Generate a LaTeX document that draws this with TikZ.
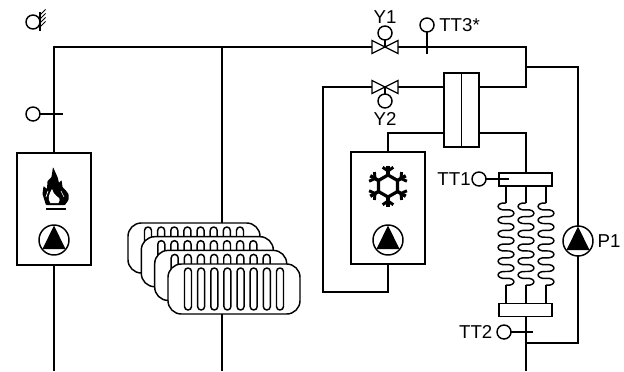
\documentclass[tikz,border=0pt]{standalone}
\usepackage{fontspec}
\setmainfont{Liberation Sans}
\usetikzlibrary{positioning}
\newcommand{\pumpsign}[1]{\fill (#1) ++(0,-14.5) -- ++(11.5,23.5) -- ++(-23,0) -- cycle;}
\newcommand{\valvesign}[1]{\draw[line width=1pt,fill=white] (#1) ++(-13,-6.5) -- ++(26,13) -- ++(0,-13) -- ++(-26,13) -- cycle;}
\begin{document}
\begin{tikzpicture}[x=0.75pt,y=-0.75pt,
    pipe/.style={line width=2pt},
    stem/.style={line width=1pt},
    unit/.style={draw,fill=white,line width=1.1pt,inner sep=0pt,outer sep=0pt,minimum width=55.5pt,minimum height=84pt},
    pumpc/.style={draw,fill=white,circle,line width=1.1pt,inner sep=0pt,outer sep=0pt,minimum size=22.5pt},
    probe/.style={draw,fill=white,circle,line width=1.1pt,inner sep=0pt,outer sep=0pt,minimum size=10.5pt},
    radbox/.style={draw,fill=white,line width=1.1pt,rounded corners=10pt,inner sep=0pt,outer sep=0pt,minimum width=99pt,minimum height=37.5pt},
    tube/.style={draw,line width=1.1pt,rounded corners=2.6pt,inner sep=0pt,outer sep=0pt,minimum width=5.25pt,minimum height=31.5pt},
    header/.style={draw,fill=white,line width=1.1pt,inner sep=0pt,outer sep=0pt,minimum width=39.75pt,minimum height=10pt},
    coilline/.style={line width=1.1pt},
    tag/.style={inner sep=0pt,outer sep=0pt,font=\fontsize{14}{16}\selectfont}]
 \useasboundingbox (0,0) rectangle (624,371);

 % units
 \node[unit] (boiler) at (54,209) {};
 \node[unit] (chiller) at (388,208) {};
 \node[pumpc] (pumpA) at (54,240) {};
 \node[pumpc] (pumpB) at (388,240) {};
 \node[pumpc] (pumpC) at (578,241) {};
 \node[draw,fill=white,line width=1.1pt,inner sep=0pt,outer sep=0pt,minimum width=26.25pt,minimum height=55.5pt] (hx) at (461.5,110) {};
 \node[header] (hdrtop) at (525.5,179.5) {};
 \node[header] (hdrbot) at (525.5,310) {};

 % radiators
 \foreach \n/\xx/\yy in {1/194/248,2/207.3/261.7,3/220.7/275.4,4/234/289} {
   \node[radbox] (rad\n) at (\xx,\yy) {};
   \foreach \k in {0,...,7}
     \node[tube] (tube\n\k) at (\xx-46+13.14*\k,\yy) {};
 }

 % free ends of the pipes
 \coordinate (corner) at (54,47);
 \coordinate (radtee) at (222,47);
 \coordinate (radin) at (222,223);
 \coordinate (radout) at (222,314);
 \coordinate (valveA) at (385,47);
 \coordinate (valveB) at (385,87);
 \coordinate (teeA) at (526,47);
 \coordinate (teeB) at (526,87);
 \coordinate (teeC) at (526,67);
 \coordinate (teeD) at (526,133);
 \coordinate (teeE) at (526,343);
 \coordinate (leftA) at (323,87);
 \coordinate (leftB) at (323,292);

 \draw[pipe] (boiler.north) -- (corner) -- (radtee) -- (valveA) -- (teeA) -- (teeB) -- (hx.east |- teeB);
 \draw[pipe] (radtee) -- (radin);
 \draw[pipe] (radout) -- (222,371);
 \draw[pipe] (boiler.south) -- (54,371);
 \draw[pipe] (hx.west |- valveB) -- (valveB) -- (leftA) -- (leftB) -| (chiller.south);
 \draw[pipe] (chiller.north) |- (hx.west |- teeD);
 \draw[pipe] (hx.east |- teeD) -- (teeD) -- (hdrtop.north -| teeD);
 \draw[pipe] (hdrbot.south -| teeE) -- (526,371);
 \draw[pipe] (teeC) -| (pumpC.north);
 \draw[pipe] (pumpC.south) |- (teeE);
 \draw[line width=1.1pt] (hx.north) -- (hx.south);

 % collector loops
 \foreach \xx in {506,526,546} {
   \draw[coilline] (\xx,186) -- (\xx,203);
   \foreach \p in {0,...,5}
     \draw[coilline] (\xx,203+13.7*\p) .. controls (\xx-10.5,203+13.7*\p-1) and (\xx-10.5,203+13.7*\p+7.8) .. (\xx,203+13.7*\p+6.85)
       .. controls (\xx+10.5,203+13.7*\p+5.9) and (\xx+10.5,203+13.7*\p+14.7) .. (\xx,203+13.7*\p+13.7);
   \draw[coilline] (\xx,285.2) -- (\xx,303);
 }

 % valves and probes
 \valvesign{valveA}
 \valvesign{valveB}
 \node[probe] (actA) at (385,33) {};
 \node[probe] (actB) at (385,101) {};
 \draw[stem] (actA) -- (valveA);
 \draw[stem] (actB) -- (valveB);
 \node[probe] (probeB) at (33,114) {};
 \node[probe] (probeC) at (427,25) {};
 \node[probe] (probeD) at (479,179) {};
 \node[probe] (probeE) at (504,332) {};
 \node[probe] (probeA) at (33,22) {};
 \coordinate (stemB) at (63,114);
 \coordinate (stemC) at (427,54);
 \coordinate (stemD) at (509,179);
 \coordinate (stemE) at (533,332);
 \draw[stem] (probeB) -- (stemB);
 \draw[stem] (probeC) -- (stemC);
 \draw[stem] (probeD) -- (stemD);
 \draw[stem] (probeE) -- (stemE);
 \coordinate (wallA) at (40,12);
 \coordinate (wallB) at (40,31);
 \draw[stem] (wallA) -- (wallB);
 \foreach \h in {3,7,11,15}
   \draw[line width=0.7pt] ([yshift=-\h*0.75pt]wallA) -- ++(5.5,-5.5);

 % labels
 \node[tag,above=2pt of actA] (tagYa) {Y1};
 \node[tag,below=3pt of actB] (tagYb) {Y2};
 \node[tag,right=4pt of probeC] (tagC) {TT3*};
 \node[tag,left=1pt of probeD] (tagD) {TT1};
 \node[tag,left=3.5pt of probeE] (tagE) {TT2};
 \node[tag,right=3.5pt of pumpC] (tagP) {P1};

 % pump signs
 \pumpsign{pumpA}
 \pumpsign{pumpB}
 \pumpsign{pumpC}

 % flame
 \fill[rounded corners=0.5pt] (45,202) -- (42.5,194) -- (43.5,186) -- (47,189) -- (47.5,181) -- (51.5,177) -- (53,167)
   -- (57.5,177) -- (59,183) -- (61.5,180) -- (62.5,187) -- (65.5,190) -- (68.5,194) -- (68.5,200) -- (65,205) -- (46,205) -- cycle;
 \fill[white] (50.5,203) .. controls (47,199) and (49,194) .. (52,189) .. controls (52,192) and (55,194) .. (56.5,196)
   .. controls (59,197) and (61,199) .. (58.5,203) -- cycle;
 \draw[white,line width=0.5pt] (46,197) -- (48,191);
 \draw[white,line width=0.5pt] (64,197) -- (61,191);
 \draw[line width=1.4pt] (46,209) -- (66,209);

 % snowflake
 \begin{scope}[shift={(388,186)}]
   \draw[line width=2.4pt,line join=round] (30:11) -- (90:11) -- (150:11) -- (210:11) -- (270:11) -- (330:11) -- cycle;
   \foreach \a in {30,90,150,210,270,330} {
     \draw[line width=2.6pt] (\a:11) -- (\a:20.5);
     \draw[line width=2.2pt] (\a:15) -- ++(\a+55:6.5);
     \draw[line width=2.2pt] (\a:15) -- ++(\a-55:6.5);
   }
 \end{scope}
\end{tikzpicture}
\end{document}
